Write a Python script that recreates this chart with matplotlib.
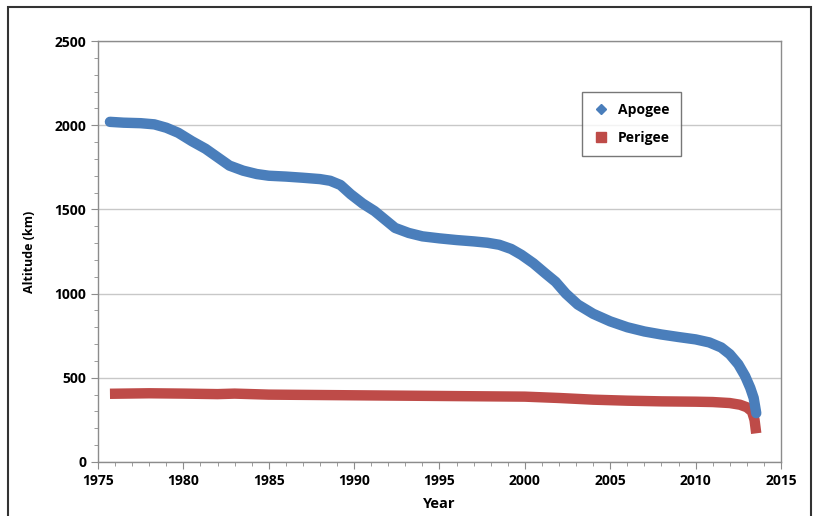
import matplotlib
matplotlib.use("Agg")
import matplotlib.pyplot as plt
from matplotlib.patches import Rectangle
from matplotlib.lines import Line2D
from matplotlib.ticker import MultipleLocator

plt.rcParams['font.family'] = ['Open Sans', 'DejaVu Sans']

# apogee history (km)
apo_year = [1975.7, 1976.5, 1977.5, 1978.3, 1979.0, 1979.7, 1980.5, 1981.3, 1982.0,
            1982.7, 1983.5, 1984.3, 1985.0, 1986.0, 1987.0, 1988.0, 1988.6, 1989.2,
            1989.8, 1990.5, 1991.2, 1991.8, 1992.4, 1993.2, 1994.0, 1995.0, 1996.0,
            1997.0, 1997.8, 1998.5, 1999.2, 1999.8, 2000.5, 2001.2, 2001.8, 2002.4,
            2003.1, 2004.0, 2005.0, 2006.0, 2007.0, 2008.0, 2009.0, 2010.0, 2010.8,
            2011.5, 2012.0, 2012.5, 2012.9, 2013.2, 2013.4, 2013.55]
apo_alt = [2020, 2015, 2012, 2005, 1985, 1955, 1905, 1860, 1810,
           1760, 1730, 1710, 1700, 1695, 1688, 1680, 1670, 1645,
           1590, 1535, 1490, 1440, 1390, 1360, 1340, 1328, 1318,
           1310, 1302, 1290, 1265, 1230, 1180, 1120, 1070, 1000,
           935, 880, 835, 800, 775, 757, 742, 728, 710,
           680, 640, 580, 510, 440, 380, 290]

# perigee history (km)
per_year = [1975.7, 1978.0, 1980.0, 1982.0, 1983.0, 1985.0, 1990.0, 1995.0, 2000.0,
            2002.0, 2004.0, 2006.0, 2008.0, 2010.0, 2011.0, 2012.0, 2012.6, 2013.0,
            2013.3, 2013.45, 2013.55]
per_alt = [405, 408, 406, 403, 406, 400, 396, 392, 388,
           380, 370, 364, 360, 358, 356, 350, 340, 325,
           300, 250, 170]

blue = '#4a7ebb'
red = '#be4b48'

fig = plt.figure(figsize=(8.16, 5.16), dpi=100)
ax = fig.add_axes([0.1201, 0.1047, 0.837, 0.8158])

ax.plot(apo_year, apo_alt, color=blue, lw=7.5, solid_capstyle='round',
        solid_joinstyle='round', zorder=3)
ax.plot(per_year, per_alt, color=red, lw=7.5, solid_capstyle='butt',
        solid_joinstyle='round', zorder=2)

ax.set_xlim(1975, 2015)
ax.set_ylim(0, 2500)
ax.xaxis.set_major_locator(MultipleLocator(5))
ax.xaxis.set_minor_locator(MultipleLocator(1))
ax.yaxis.set_major_locator(MultipleLocator(500))
ax.yaxis.set_minor_locator(MultipleLocator(100))
ax.yaxis.grid(True, which='major', color='#c8c8c8', lw=1)
ax.set_axisbelow(True)

for s in ax.spines.values():
    s.set_color('#8c8c8c')
    s.set_linewidth(1)
ax.tick_params(which='both', direction='out', color='#8c8c8c')
ax.tick_params(which='major', length=5, labelsize=10)
ax.tick_params(which='minor', length=3)
for lab in ax.get_xticklabels() + ax.get_yticklabels():
    lab.set_fontweight('bold')
ax.tick_params(axis='x', pad=4)

ax.set_xlabel('Year', fontsize=10.5, fontweight='bold', labelpad=6)
ax.set_ylabel('Altitude (km)', fontsize=9, fontweight='bold', labelpad=13)

handles = [Line2D([], [], color=blue, marker='D', ls='none', markersize=5),
           Line2D([], [], color=red, marker='s', ls='none', markersize=7)]
leg = ax.legend(handles, ['Apogee', 'Perigee'], loc='upper left',
                bbox_to_anchor=(0.698, 0.895), frameon=True, fancybox=False,
                borderpad=0.8, labelspacing=1.0, handletextpad=0.6,
                handlelength=1.2, prop={'weight': 'bold', 'size': 10})
leg.get_frame().set_edgecolor('#555555')
leg.get_frame().set_linewidth(1)

# outer chart border
fig.patches.append(Rectangle((8 / 816, -0.05), (811 - 8) / 816, 1.05 - 7 / 516,
                             transform=fig.transFigure, fill=False,
                             edgecolor='#333333', lw=1.5))

fig.savefig('out.png', dpi=100)
